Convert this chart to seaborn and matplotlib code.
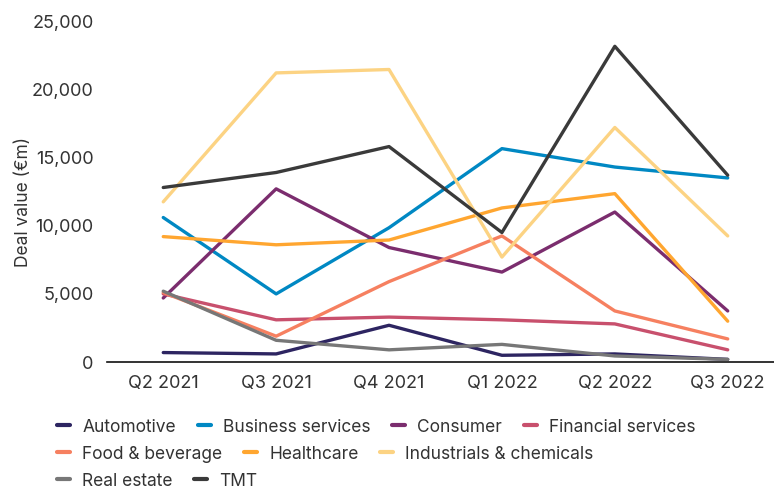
import matplotlib
matplotlib.use("Agg")
import matplotlib.pyplot as plt
import seaborn as sns
import pandas as pd
from matplotlib.lines import Line2D
from matplotlib.ticker import FuncFormatter

quarters = ["Q2 2021", "Q3 2021", "Q4 2021", "Q1 2022", "Q2 2022", "Q3 2022"]
automotive = [700, 600, 2700, 500, 600, 200]
business_services = [10600, 5000, 9850, 15650, 14300, 13500]
consumer = [4700, 12700, 8400, 6600, 11000, 3750]
financial_services = [5000, 3100, 3300, 3100, 2800, 900]
food_beverage = [5100, 1900, 5900, 9250, 3750, 1700]
healthcare = [9200, 8600, 8950, 11300, 12350, 3000]
industrials = [11750, 21200, 21450, 7700, 17200, 9250]
real_estate = [5200, 1600, 900, 1300, 450, 200]
tmt = [12800, 13900, 15800, 9500, 23150, 13700]

sectors = ["Automotive", "Business services", "Consumer", "Financial services",
           "Food & beverage", "Healthcare", "Industrials & chemicals",
           "Real estate", "TMT"]
series = [automotive, business_services, consumer, financial_services,
          food_beverage, healthcare, industrials, real_estate, tmt]
colors = ["#2d2561", "#0088c3", "#7b2d6e", "#c8506d", "#f68060",
          "#ffa630", "#fcd383", "#777777", "#3a3a3a"]

rows = []
for s, vals in zip(sectors, series):
    for i, (q, v) in enumerate(zip(quarters, vals)):
        rows.append({"Quarter": q, "idx": i, "Sector": s, "Value": v})
df = pd.DataFrame(rows)

sns.set_theme(style="white")
plt.rcParams["font.family"] = ["Inter", "DejaVu Sans"]
text_color = "#333333"

fig = plt.figure(figsize=(7.74, 4.9), dpi=100)
ax = fig.add_axes([0.138, 0.261, 0.862, 0.696])

palette = dict(zip(sectors, colors))
sns.lineplot(data=df, x="idx", y="Value", hue="Sector", hue_order=sectors,
             palette=palette, linewidth=2.4, ax=ax, legend=False, sort=False)

ax.set_xlim(-0.5, 5.41)
ax.set_ylim(0, 25000)
ax.set_xticks(range(len(quarters)))
ax.set_xticklabels(quarters)
ax.set_yticks([0, 5000, 10000, 15000, 20000, 25000])
ax.yaxis.set_major_formatter(FuncFormatter(lambda v, p: f"{int(v):,}"))
ax.tick_params(axis="both", length=0, labelsize=13, colors=text_color)
ax.tick_params(axis="y", pad=9.5)
ax.tick_params(axis="x", pad=9)
ax.set_xlabel("")
ax.set_ylabel("Deal value (€m)", fontsize=12.5, color=text_color, labelpad=2)
ax.yaxis.set_label_coords(-0.112, 0.47)
for side in ["left", "right", "top"]:
    ax.spines[side].set_visible(False)
ax.spines["bottom"].set_color("#111111")
ax.spines["bottom"].set_linewidth(1.2)

# flowing legend in three rows
row_groups = [[0, 1, 2, 3], [4, 5, 6], [7, 8]]
row_y = [427, 454, 481]
H = 490.0
W = 774.0
for grp, yy in zip(row_groups, row_y):
    handles = [Line2D([0], [0], color=colors[i], lw=3) for i in grp]
    labels = [sectors[i] for i in grp]
    leg = fig.legend(handles, labels, loc="center left",
                     bbox_to_anchor=(57 / W, 1 - yy / H), ncol=len(grp),
                     frameon=False, fontsize=12.5, handlelength=0.75,
                     handletextpad=0.7, columnspacing=1.25, borderpad=0,
                     borderaxespad=0)
    for t in leg.get_texts():
        t.set_color(text_color)

fig.savefig("out.png", dpi=100)
